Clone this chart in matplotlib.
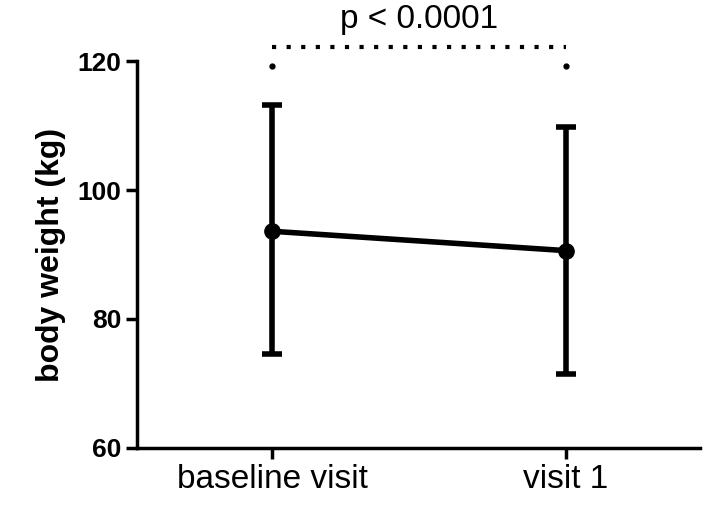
import numpy as np
import matplotlib.pyplot as plt

groups = ["baseline visit", "visit 1"]
mean_weight = [93.6, 90.6]
upper = [113.2, 109.8]
lower = [74.5, 71.4]
p_label = "p < 0.0001"

fig = plt.figure(figsize=(7.15, 5.09), dpi=100)
ax = fig.add_axes([0.192, 0.12, 0.787, 0.76])

x = np.arange(len(groups))
m = np.array(mean_weight)
yerr = [m - np.array(lower), np.array(upper) - m]
ax.errorbar(x, m, yerr=yerr, color="black", lw=4, marker="o", ms=11,
            capsize=7, capthick=4, elinewidth=4)

ax.set_xlim(-0.46, 1.456)
ax.set_ylim(60, 120)
ax.set_yticks([60, 80, 100, 120])
ax.set_xticks(x)
ax.set_xticklabels(groups, fontsize=24, fontname="Liberation Sans")
for lab in ax.get_yticklabels():
    lab.set_fontsize(19)
    lab.set_fontweight("bold")
    lab.set_fontname("Liberation Sans")
ax.set_ylabel("body weight (kg)", fontsize=23, fontweight="bold",
              fontname="Liberation Sans", labelpad=8)
ax.spines["top"].set_visible(False)
ax.spines["right"].set_visible(False)
for s in ["left", "bottom"]:
    ax.spines[s].set_linewidth(2.5)
ax.tick_params(width=2.5, length=8)

# significance bracket
yb = 122.2
ax.plot([x[0], x[1]], [yb, yb], color="black", lw=3, ls=(0, (1, 2.5)),
        clip_on=False)
for xi in x:
    ax.plot([xi], [119.2], "o", color="black", ms=3.5, clip_on=False)
ax.text(np.mean(x), 124.0, p_label, ha="center", va="bottom", fontsize=24,
        fontname="Liberation Sans")

fig.savefig("out.png", dpi=100)
